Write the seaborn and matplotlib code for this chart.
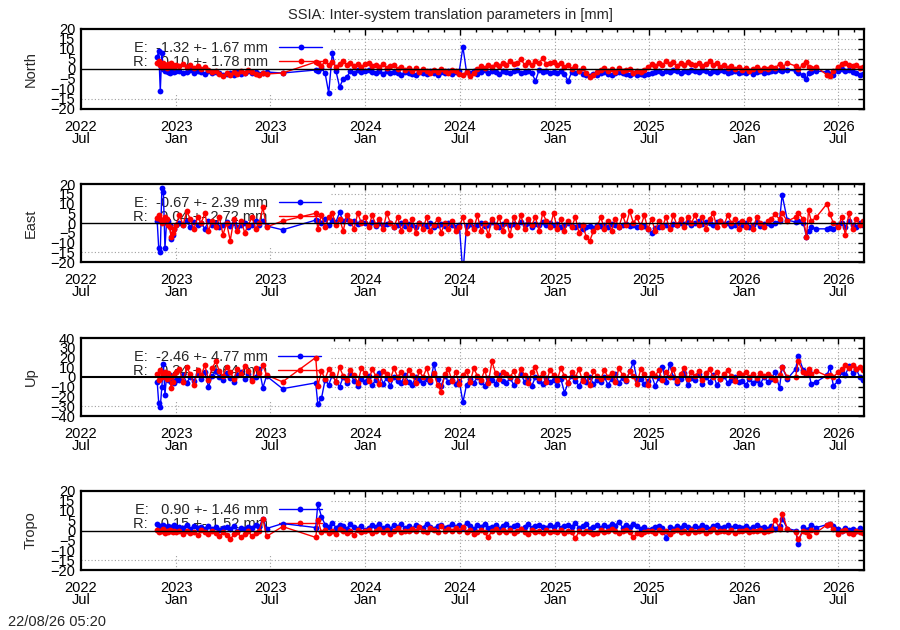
import numpy as np
import pandas as pd
import matplotlib
matplotlib.use("Agg")
import matplotlib.pyplot as plt
import matplotlib.dates as mdates
from matplotlib.patches import Rectangle
import seaborn as sns


def vals(s):
    return np.array(s.split(), dtype=float)


# epochs: dense start, weekly 2023 H1, two sparse epochs, weekly main run, sparse tail
seg1_dates = pd.date_range("2022-11-25", "2022-12-31", freq="3D")
seg2_dates = pd.date_range("2023-01-07", "2023-06-24", freq="7D")
seg3_dates = pd.to_datetime(["2023-07-25", "2023-09-27"])
seg4_dates = pd.date_range("2023-10-01", periods=126, freq="7D")
tail_dates = pd.to_datetime([
    "2026-03-01", "2026-03-10", "2026-03-15", "2026-03-25", "2026-04-10", "2026-04-15",
    "2026-04-25", "2026-05-01", "2026-05-05", "2026-05-10", "2026-05-20", "2026-06-10",
    "2026-06-15", "2026-06-22", "2026-07-01", "2026-07-08", "2026-07-15", "2026-07-22",
    "2026-07-29", "2026-08-05", "2026-08-12", "2026-08-19"])
dates = pd.DatetimeIndex(list(seg1_dates) + list(seg2_dates) + list(seg3_dates)
                         + list(seg4_dates) + list(tail_dates))

# ---- North [mm]
north_e = vals("""
6 9 -11 8 0 -1 0.5 -1.5 -2 -1 -0.5 -1.5 -1
-1 -2 -1.5 -0.5 -2 -1 -1.5 -2.5 -1 -2 -1.5 -2 -3 -2.5 -2 -3 -1.5 -2.5 -2 -1 -2 -1.5 -2.5 -2 -1.5
-2 -0.5
-1 0.5 -2 -12 8 -1 -9 -5 -4 -1 -2 -0.5 -1.5
-1 -0.5 -1.5 -2 -1 -2.5 -1 -2 -1.5 -2 -3 -1.5 -2
-2.5 -3 -1.5 -2 -2.5 -1 -2 -3 -1.5 -2 -1 -2.5 -1.5
-1 11 -1.5 -2 -1 -2.5 -1.5 -0.5 -2 -1 -1.5 -2.5 -1
-1.5 -2 -1 -0.5 -2 -1.5 -1 -2 -6 -0.5 -1.5 -1 -2
-1.5 -2 -1 -2.5 -6 -1.5 -2 -1 -2.5 -3 -3.5 -2.5 -3
-2 -1.5 -2.5 -3 -2 -1.5 -2 -2.5 -3 -2 -3 -2.5 -3
-2.5 -2 -1.5 -1 -2 -1 -1.5 -0.5 -1 -2 -1 -1.5 -0.5
-1 -1.5 -0.5 -1 -2 -1 -1.5 -0.5 -1 -2 -1.5 -1 -2
-1.5 -2 -1 -2.5 -1.5 -1 -2 -1.5 -1
-1 -0.5 -1 -0.5 -1 -2 -3 -5 -2 -1.5 -1 -1.5 -2.5 -3 -1 0 -1 -0.5 -1.5 -2 -3 -2.5
""")
north_r = vals("""
3 4 2 1 3 2 0.5 2.5 1.5 3 2 1 2
1.5 2.5 1 2 0.5 1.5 0 1 -0.5 -1.5 -1 -2.5 -3.5 -2 -3 -1.5 -2.5 -1 -2 -0.5 -1.5 -2.5 -3 -2 -2.5
-2 3.5
3 1.5 4 2 3.5 1 2.5 4 2 3 1.5 2.5 1
2.5 3 1.5 2 1 2.5 0.5 1.5 2 0 1 -0.5 0.5
-1 0.5 -1.5 0 -1 -2 -0.5 -1.5 0 -1 -2 -0.5 -1
-2.5 -3 -1.5 -3.5 -2 0 1.5 0.5 2 1 2.5 1.5 3
2 4 2.5 3 5 2 3.5 2 4 3 5.5 2.5 3
3.5 2 3 1 2 0 1.5 -1 0.5 -2 -4 -3 -1.5
-0.5 0.5 -1 0 -1.5 0.5 -1 -0.5 0 -2 -1 -1.5 -0.5
1 2.5 1.5 3 2 4 2.5 3.5 1.5 3 2 3.5 2.5
2 3 1.5 2.5 4 2 3 1 2 0.5 1.5 0 1
-0.5 0.5 -1 0 1 -0.5 0.5 0 1
0.5 2.5 1 3 1.5 0 2 3.5 1 0.5 1 -3 -3.5 -1 1 2.5 3 2 1.5 2 0.5 1
""")

# ---- East [mm]
east_e = vals("""
1 -13 -15 18 16 -13 0 1 -1 -8 -6 -3 -1
0 -1 1 -2 0.5 -1 0 -3 1 -1 0 -2 -1 0.5 -1.5 0 -2 -1 0 -2 -1 1 -1 1 -1.5
-3.5 1.5
1 0 2 -1 1.5 0.5 5.5 1 2 0 1 -0.5 0.5
0 -1 0.5 -1.5 0 -1 -0.5 0 -2 -1 0 -1.5 -0.5
-1 -2 0 -1 -1.5 0 -2 -1 -0.5 -1.5 0 -1 -2
-1 -26 -1.5 -0.5 -2 -1 0 -1.5 -1 0.5 -1 -2 -0.5
0 -1 -0.5 -1.5 0.5 -1 0 -2 -0.5 -1 0.5 -1 0
-1 -0.5 -2 -1 0 -1.5 -2 -1 -3 -2 -1.5 -2.5 -1
-1.5 -1 -2 -0.5 -1 -2 -1 -0.5 -1.5 -1 -2 -1 -1.5
-3 -5 -2.5 -2 -1.5 -1 -2 -0.5 -1 0 -0.5 0.5 -1
0 1 -0.5 0.5 0 -1 0.5 1 -0.5 0 -1.5 -1 0
-1 0 -2 -1 0.5 -1.5 -0.5 0 -1
0 1 14.5 1.5 0.5 1 0 -7 -4 -2 -3 -3 -2.5 -3 -1 0 -2 1 -1 -2 0 -1
""")
east_r = vals("""
2.5 4 2 0 1 3 2 -1 -2 -7 -5 -3 -1
4 -1 6 2 -3 3 0 5 -4 1 -2 3 -6 0 -9 2 -4 1 -5 -1 3 -3 0 8 -2
1 5
-3 4 -2 3 5 -1 2 -4 4 1 -3 5 0
3 -2 4 -1 2 -3 5 0 -2 3 -4 1 -3
2 -5 0 -3 3 -4 -1 2 -5 0 -3 1 -4
-2 3 -5 1 -3 4 -4 0 -6 2 -2 3 -4
1 -6 3 -2 4 -3 2 -1 3 -4 5 1 -2
5 -3 2 -4 1 -2 3 -5 -1 -7 -9 -4 -2
3 -3 1 -4 2 -2 4 -1 6 0 3 -2 4
-3 2 -4 1 -2 3 -3 4 -1 2 -2 3 0
4 -1 3 -3 2 5 -2 1 -1 4 0 2 -3
1 -2 2 -3 3 0 -2 1 2
4.5 2 5 1 3 5 2 -7 6.5 1 3 10 4.5 0 -2 3 -6 5 -3 2 -1 1
""")

# ---- Up [mm]
up_e = vals("""
-5 -27 -31 -10 13 -18 0 -3 2 -5 -4 -6 -3
-3 2 -6 0 -4 3 -2 5 -10 1 6 0 -3 4 -1 -5 2 5 -2 3 -2 0 8 -11 1
-12 -6
-28 -22 -3 -8 2 -5 -10 0 -6 3 -4 -9 -2
-5 1 -8 -3 4 -7 -1 -9 0 -4 -6 2 -5
-8 0 -3 -6 -2 -5 13 -2 -9 1 -5 -3 -7
-4 -26 -8 -2 -6 0 -5 -9 -1 -3 -7 2 -4
-6 -1 -8 -3 3 -5 -2 -9 0 -4 -7 -1 -5
-3 -8 -2 -16 -6 1 -4 -9 -2 -5 0 -7 -3
-5 0 -8 -2 3 -6 -1 -4 6 15 -3 -2 -7
-4 2 -9 -1 10 -5 13 0 -6 -2 4 -8 -1
-3 3 -7 0 -5 2 -8 -2 1 -6 -3 0 -5
-4 -8 -2 -6 -3 -7 0 -5 -2
5 -11 10.5 -2 8 21.5 7 3 6 -7 -5 2 10 -9 -4 5 2 11 4 8 0 -3
""")
up_r = vals("""
3 -3 7 0 3 5 -2 4 0 -11 -5 2 5
8 -5 10 3 -8 7 2 12 -3 9 16 6 1 10 5 -2 8 3 11 6 -4 9 4 12 2
-5 20
-9 6 -2 8 3 -5 10 1 -3 7 2 -6 9
4 -4 8 1 -7 6 3 -2 9 0 5 -5 7
2 -6 6 0 9 -3 4 -8 -15 3 8 -4 5
-7 2 6 -5 9 1 -3 7 -6 16 4 -2 5
3 0 6 -4 8 2 -6 5 10 -1 4 -5 7
2 -3 9 1 -6 5 0 8 -4 3 -8 6 1
-2 7 0 4 -5 9 2 -3 6 1 -7 8 3
-8 4 1 7 -3 5 0 8 -4 3 9 -2 5
1 6 -3 4 8 0 5 -2 3 7 1 -4 4
2 5 0 3 -1 4 1 3 0
-3 2 10 0 0 16 5 4 8 3 6 1 2 0 5 8 12 9 12 8 10 7
""")

# ---- Tropo [mm]
tropo_e = vals("""
3.5 1.5 2.5 1 3 2 1.5 2.5 1 2 1.5 3 2
2 1.5 3 1 2.5 1.5 2 1 2.5 1 2 0.5 1.5 2 1 2.5 0 1.5 1 2 1.5 3 2 6 1
3.5 1.5
13.5 7 3 2 4 1.5 3 2.5 1 3.5 2 1 2.5
0.5 1.5 3 2 3.5 1.5 2.5 1 3 2 3.5 1.5 2.5
1 3 2 1.5 3.5 2 1 2.5 3 1.5 2 3.5 2
3 1.5 4 2.5 1 3 2 3.5 1.5 2 3 1 2.5
3.5 1.5 2.5 3 1 2 3.5 1.5 2.5 3 2 1.5 3
2 3.5 1.5 2.5 3 2 4 1.5 2.5 3.5 1 2 3
1.5 3 2 3.5 2.5 4.5 1.5 3 2 3.5 2.5 1 2
0.5 1 2 2.5 1.5 -4 2 1 2.5 1.5 3 2 1
2.5 1.5 3 2 1 2.5 3 1.5 2 3 1.5 2.5 2
1.5 2.5 1 2 3 1.5 2 1 2.5
1 2.5 6 1 0 -7 2 0.5 1 3 1.5 3 3.5 2.5 1 0 1.5 0.5 1 0 1.5 0.5
""")
tropo_r = vals("""
0.5 -1 0 -0.5 1 -1.5 0 -1 0.5 -0.5 -1 0 -1
-0.5 -2 0 -1.5 -1 -2.5 0.5 -1 -2 -0.5 -1.5 -3 -1 -2.5 -4.5 -2 -1 -3.5 -2 -0.5 -3 -1.5 0 6 -3
2 -3.5
5.5 -1 0.5 -1.5 0 -2 1 -0.5 -1.5 0 -2.5 0.5 -1
-0.5 0.5 -1.5 0 1 -1 0.5 -2 0 1.5 -1 0 -0.5
1 -0.5 2 0 -1 1.5 0.5 -1 2.5 0 1 -0.5 1.5
0 2 -1 0.5 -2 -1 0.5 -1 -3.5 0 1 -1 0.5
-1 0.5 -1.5 0 1 -1 -2 0.5 -1 0 -1.5 0.5 -1
0 -1 0.5 -1.5 0 -1 -4 -0.5 -1.5 0 -1 -2 -1.5
0.5 -1 0 1 -0.5 -1.5 0 0.5 -1 -3.5 -1.5 -2 -1
-0.5 0 -1.5 0.5 -1 0 -2 -0.5 0.5 -1 0 -1.5 0.5
-1 0 0.5 -1.5 0 1 -1 -0.5 0 -1 0.5 -1.5 0
-0.5 0.5 -1 0 -0.5 0.5 -1 0 0.5
5.5 1 8.5 1 -1 -4.5 0 -1 -3 0.5 -1 3 3.5 1 -2 -0.5 0.5 -1.5 -2 0 -1 -1.5
""")

names = ["North", "East", "Up", "Tropo"]
e_labels = ["E:  -1.32 +- 1.67 mm", "E:  -0.67 +- 2.39 mm",
            "E:  -2.46 +- 4.77 mm", "E:   0.90 +- 1.46 mm"]
r_labels = ["R:  -0.10 +- 1.78 mm", "R:   0.04 +- 2.72 mm",
            "R:   0.34 +- 4.64 mm", "R:  -0.15 +- 1.52 mm"]
y_limits = [20, 20, 40, 20]
y_steps = [5, 5, 10, 5]
series = [(north_e, north_r), (east_e, east_r), (up_e, up_r), (tropo_e, tropo_r)]

for e, r in series:
    assert len(e) == len(dates) and len(r) == len(dates), (len(e), len(r), len(dates))

sns.set_style("white")
plt.rcParams["font.family"] = ["Liberation Sans", "DejaVu Sans"]
plt.rcParams["font.size"] = 10.5

fig = plt.figure(figsize=(9, 6.3), dpi=100)
# panel boxes in pixels: (top, bottom)
panel_px = [(29, 109), (184, 262), (338, 416), (491, 570)]
left, right = 81, 864

for i, name in enumerate(names):
    top, bot = panel_px[i]
    ax = fig.add_axes([left / 900, 1 - bot / 630, (right - left) / 900, (bot - top) / 630])
    e, r = series[i]
    df = pd.DataFrame({"date": dates, "E": e, "R": r})
    sns.lineplot(data=df, x="date", y="E", ax=ax, color="#0000ff", marker="o",
                 markersize=4.2, markeredgewidth=0, linewidth=1.0, estimator=None,
                 label=e_labels[i], zorder=2)
    sns.lineplot(data=df, x="date", y="R", ax=ax, color="#ff0000", marker="o",
                 markersize=4.2, markeredgewidth=0, linewidth=1.0, estimator=None,
                 label=r_labels[i], zorder=2.1)
    ax.axhline(0, color="black", lw=1.5 if name == "Up" else 1.0, zorder=3)

    lim, step = y_limits[i], y_steps[i]
    ax.set_ylim(-lim, lim)
    ax.set_yticks(np.arange(-lim, lim + step, step))
    ax.set_xlim(pd.Timestamp("2022-07-01"), pd.Timestamp("2026-08-20"))
    ax.xaxis.set_major_locator(mdates.MonthLocator(bymonth=[1, 7]))
    ax.xaxis.set_major_formatter(mdates.DateFormatter("%Y\n%b"))
    ax.xaxis.set_minor_locator(mdates.MonthLocator())
    ax.tick_params(which="both", direction="in", top=True, right=True, colors="black")
    ax.tick_params(which="major", length=4, width=1)
    ax.tick_params(which="minor", length=2.4, width=1)
    ax.tick_params(axis="x", which="major", pad=8)
    ax.tick_params(axis="y", which="major", pad=4)
    for lbl in ax.get_xticklabels():
        lbl.set_linespacing(0.78)
    for sp in ax.spines.values():
        sp.set_linewidth(1.6)
        sp.set_color("black")

    ax.set_axisbelow(True)
    ax.grid(True, which="major", color="#a0a0a0", lw=0.8, linestyle=(0, (1, 2)))
    # opaque key area hides the grid in the upper left
    ax.add_patch(Rectangle((0, 0.19), (330 - left) / (right - left), 0.81,
                           transform=ax.transAxes, facecolor="white",
                           edgecolor="none", zorder=1))

    ax.set_xlabel("")
    ax.set_ylabel(name)
    ax.yaxis.set_label_coords(-(left - 31) / (right - left), 0.5)
    ax.yaxis.label.set_va("center")

    leg = ax.legend(loc="upper left", bbox_to_anchor=(126 / 900, 1 - (top + 5) / 630),
                    bbox_transform=fig.transFigure, frameon=False, markerfirst=False,
                    borderpad=0, labelspacing=0.0, handlelength=2.9,
                    handletextpad=0.75, fontsize=10.5)
    leg.set_zorder(1.5)

fig.text(0.5, 1 - 15 / 630, "SSIA: Inter-system translation parameters in [mm]",
         ha="center", va="center", fontsize=10.5)
fig.text(8 / 900, 1 - 622 / 630, "22/08/26 05:20", ha="left", va="center", fontsize=10.5)

fig.savefig("out.png", dpi=100)
